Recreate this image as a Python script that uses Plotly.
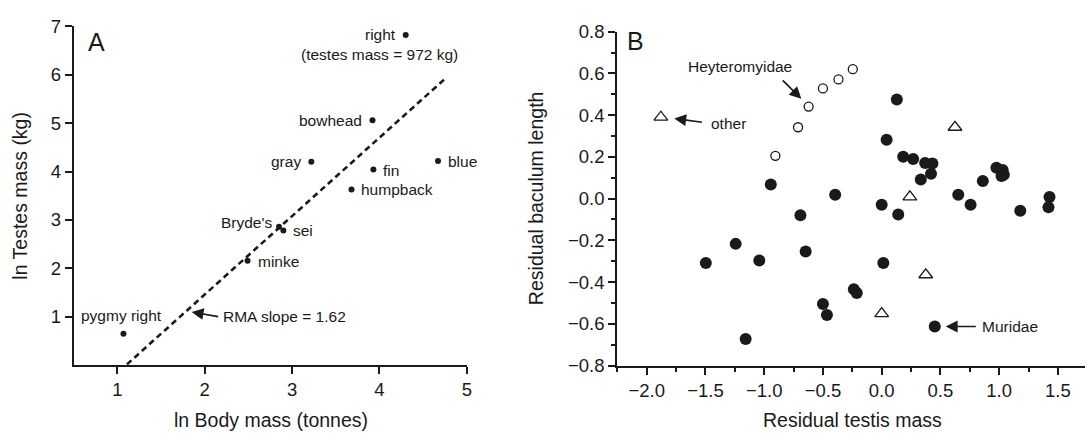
import plotly.graph_objects as go

# ---------------- Panel A data ----------------
whale_species = ["right", "bowhead", "gray", "fin", "humpback", "blue",
                 "Bryde's", "sei", "minke", "pygmy right"]
ln_body_mass = [4.30, 3.92, 3.22, 3.93, 3.68, 4.67, 2.85, 2.90, 2.49, 1.07]
ln_testes_mass = [6.82, 5.06, 4.20, 4.04, 3.63, 4.22, 2.86, 2.78, 2.16, 0.65]
rma_slope = 1.62
rma_intercept = -1.78
rma_x_ends = [1.11, 4.74]

# ---------------- Panel B data ----------------
hetero_x = [-0.905, -0.712, -0.622, -0.50, -0.368, -0.246]
hetero_y = [0.205, 0.342, 0.441, 0.528, 0.571, 0.620]

other_x = [-1.88, 0.624, 0.24, 0.375, 0.0]
other_y = [0.39, 0.342, 0.008, -0.365, -0.551]

rodent_x = [0.129, 0.042, 0.183, 0.268, 0.37, 0.432, 0.42, 0.333, 0.977, 1.03,
            1.04, 1.02, 0.861, -0.396, 0.652, 0.757, 1.18, 1.429, 1.42, 0.0,
            0.141, -0.692, -0.944, -1.497, -1.243, -1.042, -0.647, -1.158, -0.5,
            -0.466, 0.014, -0.237, -0.212, 0.452]
rodent_y = [0.475, 0.282, 0.201, 0.190, 0.171, 0.168, 0.119, 0.091, 0.148, 0.137,
            0.114, 0.108, 0.084, 0.018, 0.018, -0.03, -0.058, 0.008, -0.042, -0.03,
            -0.076, -0.08, 0.068, -0.309, -0.217, -0.297, -0.254, -0.673, -0.505,
            -0.558, -0.309, -0.434, -0.452, -0.613]

a_xticks = [1, 2, 3, 4, 5]
a_yticks = [1, 2, 3, 4, 5, 6, 7]

FONT = "Liberation Sans, Arial, Helvetica, sans-serif"
INK = "#1a1a1a"
W, H = 1091, 440


def px_x(p):
    return p / W


def px_y(p):
    return (H - p) / H


fig = go.Figure()

# Panel A
rma_y_ends = [rma_slope * x + rma_intercept for x in rma_x_ends]
fig.add_trace(go.Scatter(x=rma_x_ends, y=rma_y_ends, mode="lines",
                         line=dict(color=INK, width=2.6, dash="6px,4px"),
                         xaxis="x", yaxis="y", showlegend=False, hoverinfo="skip"))
fig.add_trace(go.Scatter(x=ln_body_mass, y=ln_testes_mass, mode="markers",
                         marker=dict(color=INK, size=6),
                         text=whale_species, xaxis="x", yaxis="y",
                         showlegend=False, cliponaxis=False))

# Panel B
fig.add_trace(go.Scatter(x=rodent_x, y=rodent_y, mode="markers",
                         marker=dict(color=INK, size=12),
                         xaxis="x2", yaxis="y2", showlegend=False, cliponaxis=False))
fig.add_trace(go.Scatter(x=hetero_x, y=hetero_y, mode="markers",
                         marker=dict(color=INK, size=9, symbol="circle-open",
                                     line=dict(width=1.3)),
                         xaxis="x2", yaxis="y2", showlegend=False, cliponaxis=False))
fig.add_trace(go.Scatter(x=other_x, y=other_y, mode="markers",
                         marker=dict(color=INK, size=12, symbol="triangle-up-open",
                                     line=dict(width=1.3)),
                         xaxis="x2", yaxis="y2", showlegend=False, cliponaxis=False))

axis_common = dict(showline=True, linecolor=INK, linewidth=2, ticks="outside",
                   ticklen=7, tickwidth=2, tickcolor=INK, showgrid=False,
                   zeroline=False, tickfont=dict(family=FONT, size=18.5, color=INK))

fig.update_layout(
    width=W, height=H, margin=dict(l=0, r=0, t=0, b=0),
    paper_bgcolor="white", plot_bgcolor="white",
    font=dict(family=FONT, color=INK),
    xaxis=dict(domain=[px_x(74), px_x(469)], range=[0.5, 5], tickvals=a_xticks,
               anchor="y", **axis_common),
    yaxis=dict(domain=[px_y(372), px_y(16)], range=[0, 7], tickvals=a_yticks,
               anchor="x", **axis_common),
    xaxis2=dict(domain=[px_x(620), px_x(1090)], range=[-2.252, 1.731],
                tick0=0, dtick=0.5, tickformat=".1f", anchor="y2",
                minor=dict(tick0=0, dtick=0.25, ticks="outside", ticklen=4,
                           tickwidth=1.5, tickcolor=INK),
                **axis_common),
    yaxis2=dict(domain=[px_y(372.3), px_y(21.7)], range=[-0.8, 0.8],
                tick0=0, dtick=0.2, tickformat=".1f", anchor="x2",
                minor=dict(tick0=0, dtick=0.1, ticks="outside", ticklen=4,
                           tickwidth=1.5, tickcolor=INK),
                **axis_common),
)

LBL = dict(family=FONT, size=15.5, color=INK)
ARW = dict(showarrow=True, arrowhead=2, arrowsize=1.4, arrowwidth=1.7,
           arrowcolor=INK, standoff=0, text="")
ann = []

# Panel A point labels (side, xshift, yshift)
label_style = {
    "right": ("right", -8, 0),
    "bowhead": ("right", -8, 0),
    "gray": ("right", -8, 0),
    "fin": ("left", 8, -1),
    "humpback": ("left", 7, 0),
    "blue": ("left", 8, -1),
    "Bryde's": ("right", -5, 4),
    "sei": ("left", 8, 0),
    "minke": ("left", 8, -1),
    "pygmy right": ("center", -2, 18),
}
for name, bx, ty in zip(whale_species, ln_body_mass, ln_testes_mass):
    side, dx, dy = label_style[name]
    ann.append(dict(x=bx, y=ty, xref="x", yref="y", text=name, showarrow=False,
                    xanchor=side, yanchor="middle", xshift=dx, yshift=dy, font=LBL))
ann.append(dict(x=ln_body_mass[0], y=ln_testes_mass[0], xref="x", yref="y",
                text="(testes mass = 972 kg)", showarrow=False, xanchor="center",
                yanchor="middle", xshift=-26, yshift=-20, font=LBL))

# RMA annotation
ann.append(dict(x=1.85, y=1.10, ax=2.17, ay=1.0, xref="x", yref="y", axref="x", ayref="y",
                **ARW))
ann.append(dict(x=2.19, y=1.0, xref="x", yref="y", text="RMA slope = 1.62",
                showarrow=False, xanchor="left", yanchor="middle", font=LBL))

# Panel B annotations
ann.append(dict(x=-1.209, y=0.633, xref="x2", yref="y2", text="Heyteromyidae",
                showarrow=False, xanchor="center", yanchor="middle", font=LBL))
ann.append(dict(x=-0.684, y=0.478, ax=-0.855, ay=0.574, xref="x2", yref="y2",
                axref="x2", ayref="y2", **ARW))
ann.append(dict(x=-1.473, y=0.359, xref="x2", yref="y2", text="other",
                showarrow=False, xanchor="left", yanchor="middle", font=LBL))
ann.append(dict(x=-1.766, y=0.384, ax=-1.517, ay=0.365, xref="x2", yref="y2",
                axref="x2", ayref="y2", **ARW))
ann.append(dict(x=0.841, y=-0.613, xref="x2", yref="y2", text="Muridae",
                showarrow=False, xanchor="left", yanchor="middle", font=LBL))
ann.append(dict(x=0.545, y=-0.613, ax=0.814, ay=-0.613, xref="x2", yref="y2",
                axref="x2", ayref="y2", **ARW))

# Panel letters
ann.append(dict(x=px_x(97), y=px_y(33), xref="paper", yref="paper", text="A",
                showarrow=False, xanchor="center", yanchor="middle",
                font=dict(family=FONT, size=25, color=INK)))
ann.append(dict(x=px_x(638), y=px_y(31), xref="paper", yref="paper", text="B",
                showarrow=False, xanchor="center", yanchor="middle",
                font=dict(family=FONT, size=25, color=INK)))

# Axis titles
TTL = dict(family=FONT, size=19.5, color=INK)
ann.append(dict(x=px_x(272), y=px_y(429), xref="paper", yref="paper",
                text="ln Body mass (tonnes)", showarrow=False, xanchor="center",
                yanchor="middle", font=TTL))
ann.append(dict(x=px_x(20), y=px_y(194), xref="paper", yref="paper",
                text="ln Testes mass (kg)", showarrow=False, textangle=-90,
                xanchor="center", yanchor="middle", font=TTL))
ann.append(dict(x=px_x(856), y=px_y(429), xref="paper", yref="paper",
                text="Residual testis mass", showarrow=False, xanchor="center",
                yanchor="middle", font=TTL))
ann.append(dict(x=px_x(538), y=px_y(197), xref="paper", yref="paper",
                text="Residual baculum length", showarrow=False, textangle=-90,
                xanchor="center", yanchor="middle", font=TTL))

fig.update_layout(annotations=ann)

fig.write_html("out.html")
